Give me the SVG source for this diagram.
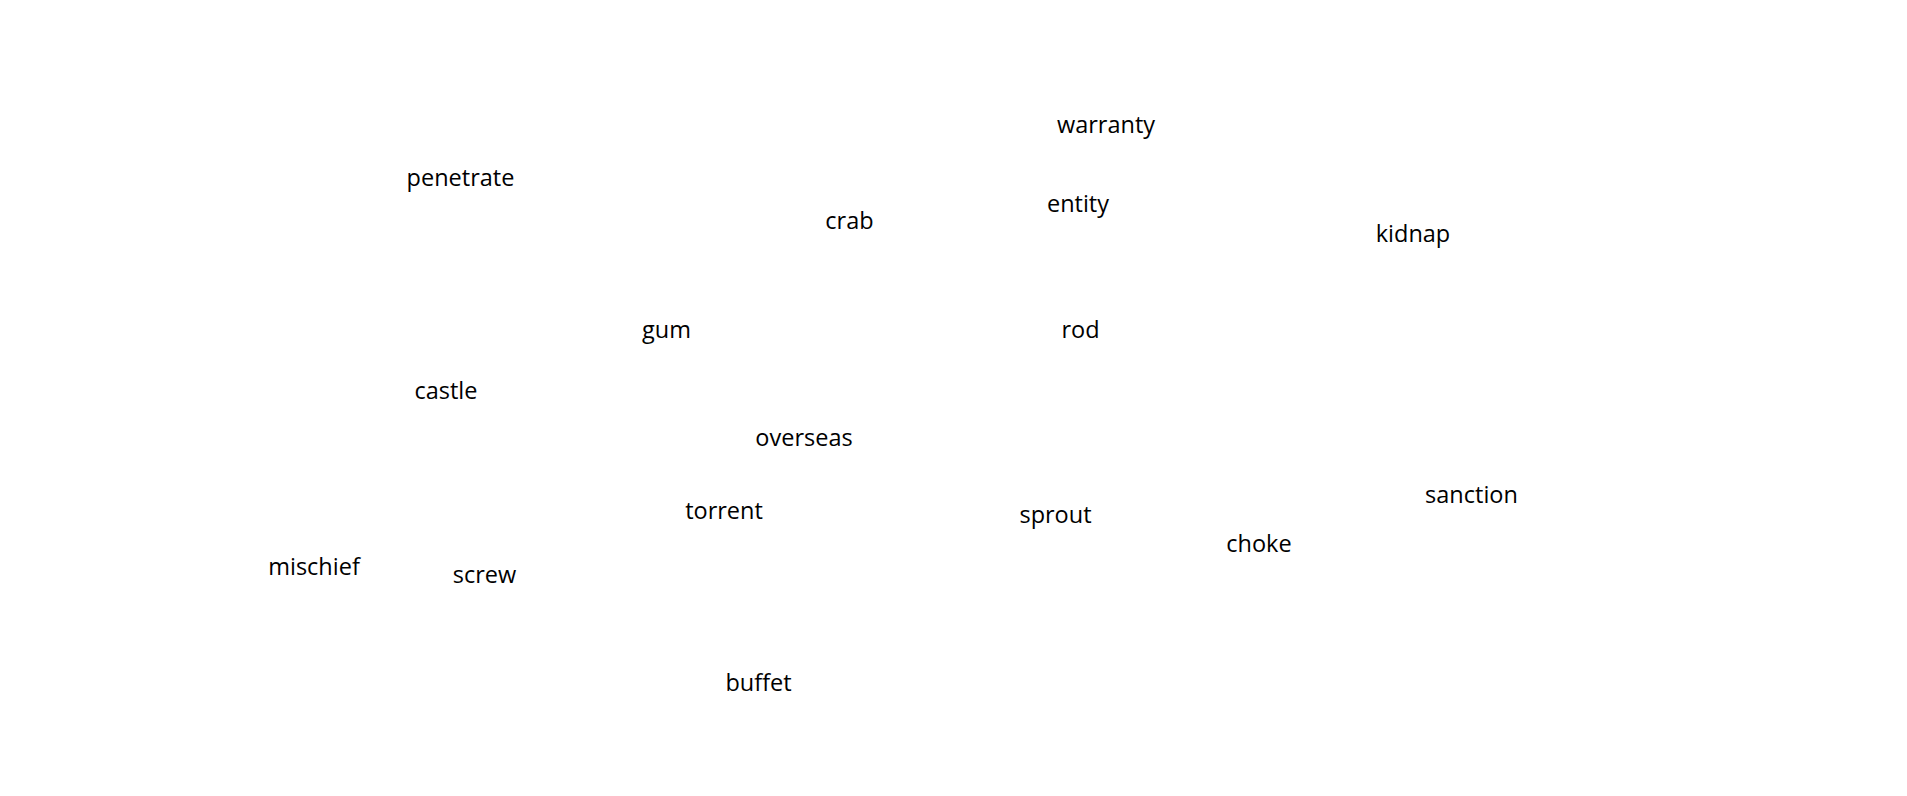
<svg xmlns="http://www.w3.org/2000/svg" width="1907" height="796" viewBox="0 0 1907 796">
<style>
.lbl{font-family:"Open Sans","Noto Sans","Liberation Sans",sans-serif;font-size:23.5px;fill:#000;text-anchor:middle}
</style>
<rect width="1907" height="796" fill="#fff"/>
<g id="connectors"></g>
<g id="warranty"><text class="lbl" x="1106" y="133">warranty</text></g>
<g id="penetrate"><text class="lbl" x="460.5" y="186">penetrate</text></g>
<g id="entity"><text class="lbl" x="1078" y="212">entity</text></g>
<g id="crab"><text class="lbl" x="849.5" y="229">crab</text></g>
<g id="kidnap"><text class="lbl" x="1413" y="242">kidnap</text></g>
<g id="gum"><text class="lbl" x="666.5" y="338">gum</text></g>
<g id="rod"><text class="lbl" x="1080.5" y="338">rod</text></g>
<g id="castle"><text class="lbl" x="446" y="399">castle</text></g>
<g id="overseas"><text class="lbl" x="804" y="446">overseas</text></g>
<g id="sanction"><text class="lbl" x="1471.5" y="503">sanction</text></g>
<g id="torrent"><text class="lbl" x="724" y="519">torrent</text></g>
<g id="sprout"><text class="lbl" x="1055.5" y="523">sprout</text></g>
<g id="choke"><text class="lbl" x="1259" y="552">choke</text></g>
<g id="mischief"><text class="lbl" x="314" y="575">mischief</text></g>
<g id="screw"><text class="lbl" x="484.5" y="583">screw</text></g>
<g id="buffet"><text class="lbl" x="758.5" y="691">buffet</text></g>
</svg>
